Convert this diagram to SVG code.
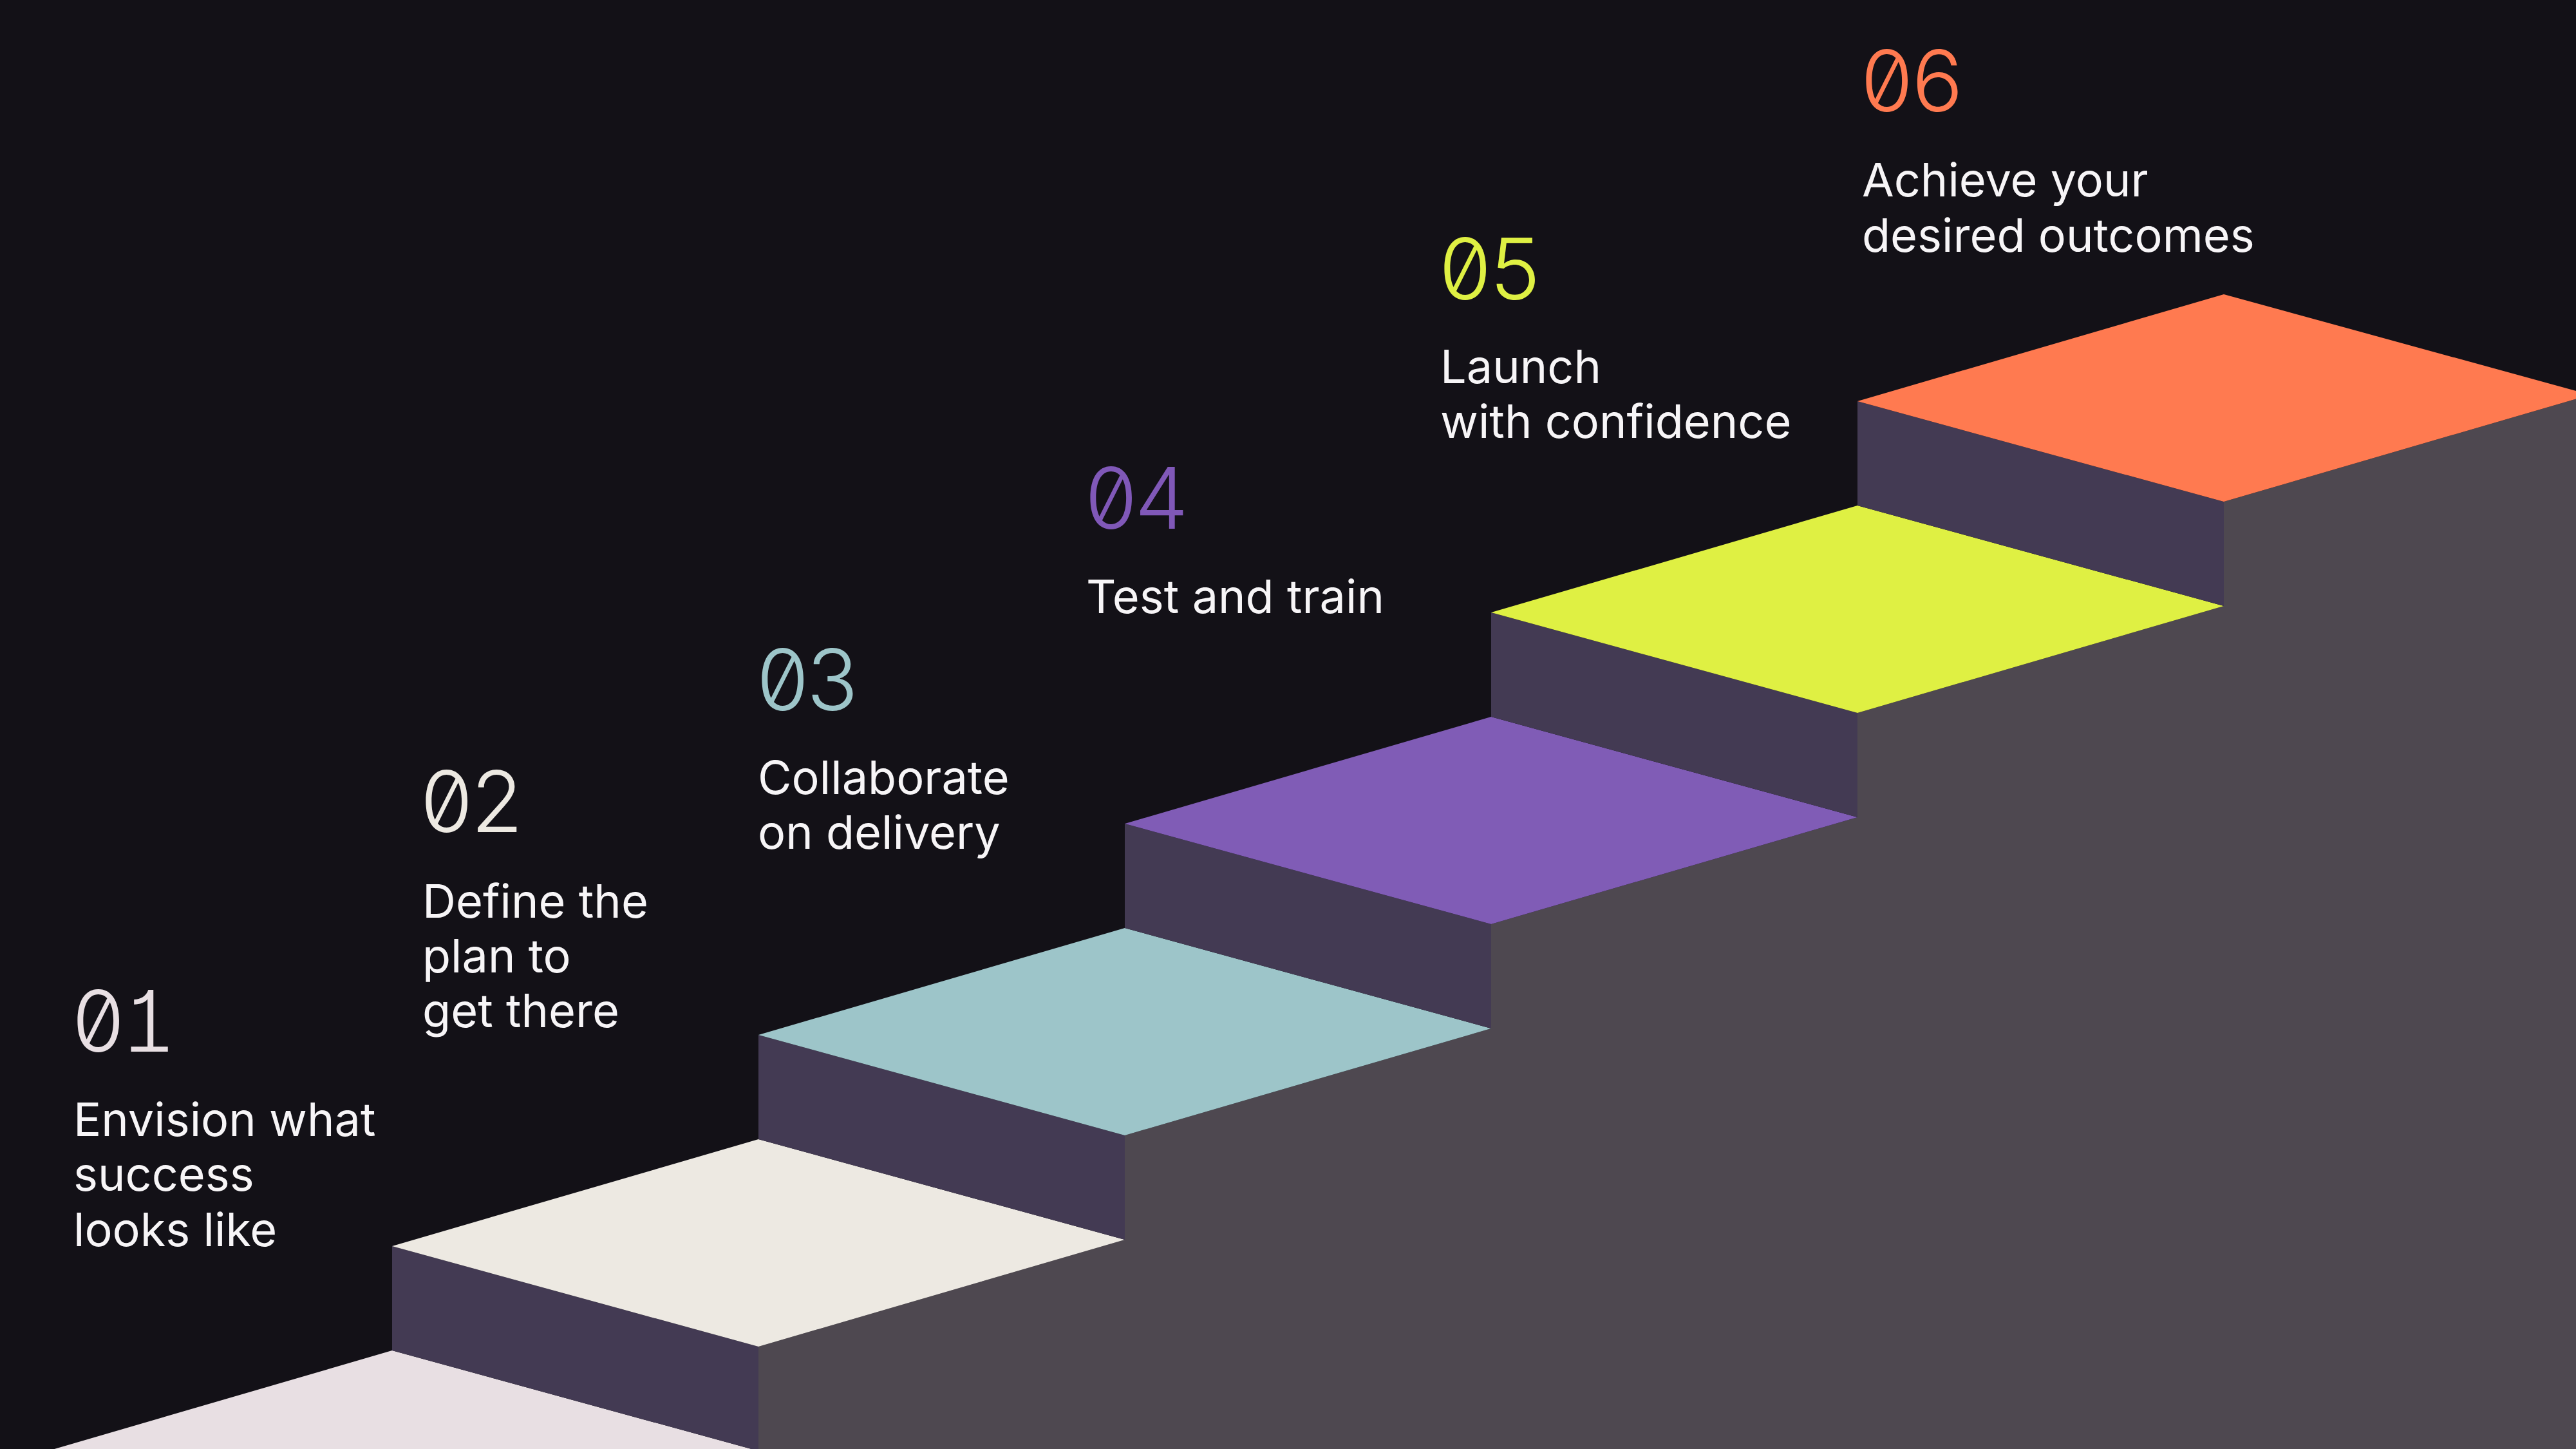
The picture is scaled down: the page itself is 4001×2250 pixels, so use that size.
<svg xmlns="http://www.w3.org/2000/svg" width="4001" height="2250" viewBox="0 0 4001 2250">
<style>
.bg{fill:#131117}
.side{fill:#4e4850}
.riser{fill:#433a53}
.num{font-family:Inter,"Liberation Sans",sans-serif;font-size:132px;font-weight:300;letter-spacing:-7px;font-feature-settings:"zero" 1,"cv01" 1,"tnum" 1}
.lbl{font-family:Inter,"Liberation Sans",sans-serif;font-size:72px;fill:#f7f5f7}
</style>
<rect class="bg" x="0" y="0" width="4001" height="2250"/>
<polygon class="side" points="1178,2260 1178,2091 1747,1925 1747,1763 2316,1597 2316,1435 2885,1269 2885,1107 3454,941 3454,779 4023,613 4023,2260"/>
<g id="connectors"></g>
<g id="step1">
<polygon fill="#e8dfe3" points="40,2263 609,2097 1178,2253 609,2419"/>
<text class="num" x="110" y="1633" fill="#e8dfe3">01</text>
<text class="lbl" x="114" y="1764">Envision what</text>
<text class="lbl" x="114" y="1849">success</text>
<text class="lbl" x="114" y="1935">looks like</text>
</g>
<g id="step2">
<polygon class="riser" points="609,1935 1178,2091 1178,2253 609,2097"/>
<polygon fill="#ede9e2" points="609,1935 1178,1769 1747,1925 1178,2091"/>
<text class="num" x="651" y="1292" fill="#ede9e2">02</text>
<text class="lbl" x="656" y="1425">Define the</text>
<text class="lbl" x="656" y="1510">plan to</text>
<text class="lbl" x="656" y="1595">get there</text>
</g>
<g id="step3">
<polygon class="riser" points="1178,1607 1747,1763 1747,1925 1178,1769"/>
<polygon fill="#9dc5c9" points="1178,1607 1747,1441 2316,1597 1747,1763"/>
<text class="num" x="1173" y="1103" fill="#9dc5c9">03</text>
<text class="lbl" x="1177" y="1233">Collaborate</text>
<text class="lbl" x="1177" y="1318">on delivery</text>
</g>
<g id="step4">
<polygon class="riser" points="1747,1279 2316,1435 2316,1597 1747,1441"/>
<polygon fill="#805cb6" points="1747,1279 2316,1113 2885,1269 2316,1435"/>
<text class="num" x="1683" y="821" fill="#8058b8">04</text>
<text class="lbl" x="1687" y="952">Test and train</text>
</g>
<g id="step5">
<polygon class="riser" points="2316,951 2885,1107 2885,1269 2316,1113"/>
<polygon fill="#dff043" points="2316,951 2885,785 3454,941 2885,1107"/>
<text class="num" x="2233" y="465" fill="#dff043">05</text>
<text class="lbl" x="2237" y="595">Launch</text>
<text class="lbl" x="2237" y="680">with confidence</text>
</g>
<g id="step6">
<polygon class="riser" points="2885,623 3454,779 3454,941 2885,785"/>
<polygon fill="#ff7a50" points="2885,623 3454,457 4023,613 3454,779"/>
<text class="num" x="2888" y="173" fill="#ff7a50">06</text>
<text class="lbl" x="2892" y="305">Achieve your</text>
<text class="lbl" x="2892" y="391">desired outcomes</text>
</g>
</svg>
